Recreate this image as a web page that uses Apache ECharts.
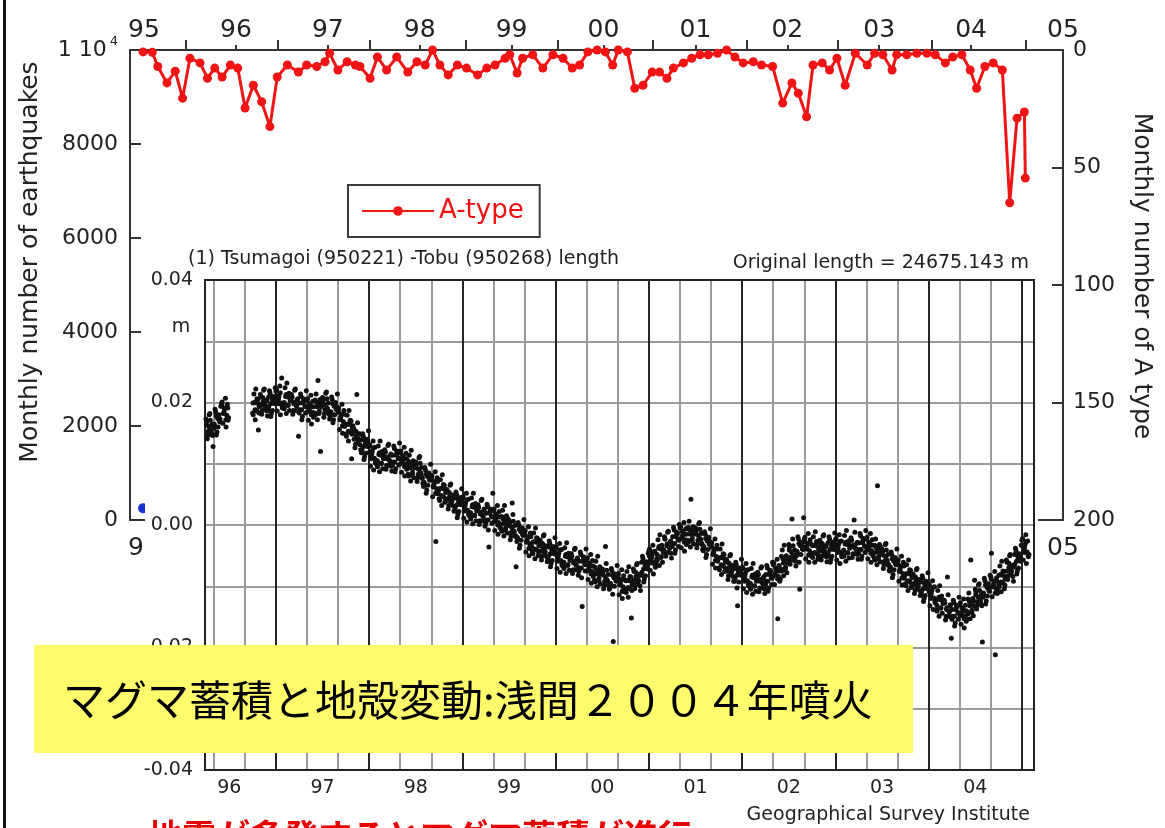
<!DOCTYPE html>
<html><head><meta charset="utf-8">
<script src="https://cdn.jsdelivr.net/npm/echarts@6/dist/echarts.min.js"></script>
<style>html,body{margin:0;padding:0;background:#fff}#c{width:1165px;height:828px}</style>
</head><body><div id="c"></div>
<script>
// ---- Background chart: monthly A-type earthquakes (right axis, inverted) ----
const aTypeT = [1994.99,1995.09,1995.15,1995.25,1995.34,1995.42,1995.50,1995.61,1995.69,1995.77,1995.85,1995.94,1996.02,1996.10,1996.19,1996.28,1996.37,1996.45,1996.56,1996.68,1996.77,1996.88,1996.97,1997.02,1997.11,1997.21,1997.30,1997.35,1997.46,1997.54,1997.64,1997.75,
1997.87,1997.97,1998.06,1998.14,1998.22,1998.31,1998.41,1998.51,1998.63,1998.73,1998.82,1998.93,1998.98,1999.06,1999.12,1999.23,1999.34,1999.45,1999.56,1999.66,1999.74,1999.83,1999.93,2000.02,2000.10,2000.16,2000.26,2000.34,2000.43,2000.53,2000.61,2000.69,2000.76,2000.87,2000.96,2001.05,2001.14,2001.24,2001.34,2001.43,2001.52,2001.63,2001.72,2001.84,
2001.95,2002.05,2002.12,2002.21,2002.28,2002.38,2002.46,2002.54,2002.63,2002.74,2002.87,2002.95,2003.04,2003.14,2003.19,2003.30,2003.41,2003.52,2003.61,2003.72,2003.80,2003.90,2003.99,2004.06,2004.15,2004.24,2004.34,2004.42,2004.50,2004.58,2004.59];
const aTypeV = [0.8,1,7,14,9,20.5,3.5,5.5,12,7.7,11.5,6.4,7.7,24.7,15,22,32.6,11.5,6.4,9.4,6.4,7,5,1.4,8.5,5,6.4,7,12,3,8.5,3,
9.4,5,6.4,0,6.4,10.6,6.4,7.7,10.6,7.7,6.4,3.5,2,9.8,3.5,2,7.7,2,3.5,7.7,6.4,0.8,0,0.8,6.4,0,0.8,16.3,15,9.4,9.4,12,7.7,5.5,3.5,2,2,1.4,0,3,5.5,5,6.4,7,
22.6,14,18.4,28.4,6.4,5.5,8.5,3.5,15,1.4,6.4,1.4,2,8.5,2,2,1.4,1.4,2,5.5,3,2,8.5,16.3,7,5.5,8.5,65,29,26.4,54.5];
// total monthly earthquakes (left axis) - only the first point is visible
const quakeT = [1994.99, 1995.08];
const quakeV = [250, 200];
const bgYearLabels = [1995,1996,1997,1998,1999,2000,2001,2002,2003,2004,2005];
const bgMinorTicks = [1996,1997,1998,1999,2000,2001,2002,2003,2004];
const bgMajorTicks = [1995.45,1996.46,1997.46,1998.5,1999.5,2000.54,2001.56,2002.55,2003.57,2004.59];

// ---- Inset: Tsumagoi - Tobu baseline length change (mm) ----
const gpsMonths = ['1996-04','1996-05','1996-06','1996-10','1996-11','1996-12',
'1997-01','1997-02','1997-03','1997-04','1997-05','1997-06','1997-07','1997-08','1997-09','1997-10','1997-11','1997-12',
'1998-01','1998-02','1998-03','1998-04','1998-05','1998-06','1998-07','1998-08','1998-09','1998-10','1998-11','1998-12',
'1999-01','1999-02','1999-03','1999-04','1999-05','1999-06','1999-07','1999-08','1999-09','1999-10','1999-11','1999-12',
'2000-01','2000-02','2000-03','2000-04','2000-05','2000-06','2000-07','2000-08','2000-09','2000-10','2000-11','2000-12',
'2001-01','2001-02','2001-03','2001-04','2001-05','2001-06','2001-07','2001-08','2001-09','2001-10','2001-11','2001-12',
'2002-01','2002-02','2002-03','2002-04','2002-05','2002-06','2002-07','2002-08','2002-09','2002-10','2002-11','2002-12',
'2003-01','2003-02','2003-03','2003-04','2003-05','2003-06','2003-07','2003-08','2003-09','2003-10','2003-11','2003-12',
'2004-01','2004-02','2004-03','2004-04','2004-05','2004-06','2004-07','2004-08','2004-09','2004-10','2004-11','2004-12','2005-01'];
// wider scatter incl. outliers (6 readings per month)
const gpsValues = [
[16.9,14.7,18.0,15.6,16.4,12.8],[16.3,18.5,15.2,17.8,16.9,19.4],[20.1,18.2,19.1,16.0,19.7,17.5],
[18.0,20.0,22.2,18.6,15.5,19.7],[20.9,18.7,22.0,19.6,20.4,17.8],[19.3,21.5,18.2,20.8,19.9,22.4],
[22.1,20.2,21.1,18.0,24.0,19.5],[19.0,21.0,23.2,19.6,18.7,20.7],[20.9,18.7,22.0,19.6,20.4,14.5],[18.8,21.0,17.7,20.3,19.4,21.9],
[20.6,18.7,19.6,16.5,20.2,18.0],[18.0,20.0,23.6,18.6,12.0,19.7],[20.4,18.2,21.5,19.1,19.9,17.3],[18.3,20.5,17.2,19.8,18.9,21.4],
[19.1,17.2,18.1,15.0,18.7,16.5],[14.5,16.5,18.7,15.1,10.8,16.2],[15.4,13.2,21.3,14.1,14.9,12.3],[12.3,14.5,11.2,13.8,12.9,15.4],
[13.1,11.2,12.1,9.0,12.7,10.5],[9.5,11.5,13.7,10.1,9.2,11.2],[11.9,9.7,13.0,10.6,11.4,8.8],[10.3,12.5,9.2,11.8,10.9,13.4],
[12.1,10.2,11.1,8.0,11.7,9.5],[8.0,10.0,12.2,8.6,7.7,9.7],[9.9,7.7,11.0,8.6,9.4,6.8],[6.8,9.0,5.7,8.3,7.4,9.9],
[8.1,6.2,7.1,-2.7,7.7,5.5],[4.0,6.0,8.2,4.6,3.7,5.7],[5.4,3.2,6.5,4.1,4.9,2.3],[2.8,5.0,1.7,4.3,3.4,5.9],
[4.6,2.7,3.6,0.5,4.2,2.0],[1.0,3.0,5.2,1.6,0.7,2.7],[2.9,0.7,4.0,1.6,2.4,-0.2],[0.8,3.0,-3.6,2.3,1.4,5.2],
[2.6,0.7,1.6,-1.5,2.2,0.0],[-1.0,1.0,3.2,-0.4,-1.3,0.7],[0.4,-1.8,3.6,-0.9,-0.1,-6.8],[-2.2,0.0,-3.3,-0.7,-1.6,0.9],
[-0.9,-2.8,-1.9,-5.0,-1.3,-3.5],[-4.7,-2.7,-0.5,-4.1,-5.0,-3.0],[-2.9,-5.1,-1.8,-4.2,-3.4,-6.0],[-5.2,-3.0,-6.3,-3.7,-4.6,-2.1],
[-3.6,-5.5,-4.6,-7.7,-4.0,-6.2],[-7.1,-5.1,-2.9,-6.5,-7.4,-5.4],[-5.1,-7.3,-4.0,-6.4,-5.6,-8.2],[-7.0,-4.8,-13.3,-5.5,-6.4,-3.9],
[-5.4,-7.3,-6.4,-9.5,-5.8,-8.0],[-9.3,-7.3,-5.1,-8.7,-9.6,-7.6],[-7.6,-9.8,-3.5,-8.9,-8.1,-10.5],[-9.7,-7.5,-19.0,-8.2,-9.1,-6.6],
[-7.9,-9.8,-8.9,-12.0,-8.3,-10.5],[-11.0,-9.0,-6.8,-10.4,-15.2,-9.3],[-7.6,-9.8,-6.5,-8.9,-8.1,-10.7],[-7.7,-5.5,-8.8,-6.2,-7.1,-4.6],
[-3.9,-5.8,-4.9,-8.0,-4.3,-6.5],[-5.8,-3.8,-1.6,-5.2,-6.1,-4.1],[-2.3,-4.5,-1.2,-3.6,-2.8,-5.4],[-3.0,-0.8,-4.1,-1.5,-2.4,0.1],
[-0.2,-2.1,-1.2,-4.3,-0.6,-2.8],[-2.8,-0.8,4.2,-2.2,-3.1,-1.1],[-0.9,-3.1,0.2,-2.2,-1.4,-4.0],[-3.7,-1.5,-4.8,-2.2,-3.1,-0.6],
[-2.9,-4.8,-3.9,-7.0,-3.3,-5.5],[-7.3,-5.3,-3.1,-6.7,-7.6,-5.6],[-6.1,-8.3,-5.0,-7.4,-6.6,-9.2],[-8.7,-6.5,-13.2,-7.2,-8.1,-5.6],
[-6.9,-8.8,-7.9,-11.0,-7.3,-9.5],[-10.5,-8.5,-6.3,-9.9,-10.8,-8.8],[-8.1,-10.3,-7.0,-9.4,-8.6,-11.2],[-9.2,-7.0,-10.3,-7.7,-8.6,-6.1],
[-6.2,-8.1,-7.2,-15.3,-6.6,-8.8],[-7.5,-5.5,-3.3,-6.9,-7.8,-5.8],[-3.6,-5.8,1.0,-4.9,-4.1,-6.7],[-4.5,-2.3,-10.5,-3.0,-3.9,1.2],
[-2.0,-3.9,-3.0,-6.1,-2.4,-4.6],[-5.3,-3.3,-1.1,-4.7,-5.6,-3.6],[-2.9,-5.1,-1.8,-4.2,-3.4,-6.0],[-4.5,-2.3,-5.6,-3.0,-3.9,-1.3],
[-2.2,-4.1,-3.2,-6.3,-2.6,-4.8],[-5.1,-3.1,-0.9,-4.5,-5.4,-3.4],[-2.5,-4.7,0.8,-3.8,-3.0,-5.6],[-4.0,-1.8,-5.1,-2.5,-3.4,-0.9],
[-2.0,-3.9,-3.0,-6.1,-2.4,-4.6],[-5.7,-3.7,6.4,-5.1,-6.0,-4.0],[-4.3,-6.5,-3.2,-5.6,-4.8,-7.4],[-7.0,-4.8,-8.1,-5.5,-6.4,-3.9],
[-5.7,-7.6,-6.7,-9.8,-6.1,-8.3],[-9.9,-7.9,-5.7,-9.3,-10.2,-8.2],[-8.4,-10.6,-7.3,-9.7,-8.9,-11.5],[-10.9,-8.7,-12.0,-9.4,-10.3,-7.8],
[-9.7,-11.6,-10.7,-13.8,-10.1,-12.3],[-14.1,-12.1,-9.9,-13.5,-14.4,-12.4],[-12.7,-14.9,-8.5,-14.0,-13.2,-18.5],[-14.9,-12.7,-16.0,-13.4,-14.3,-11.8],
[-12.7,-14.6,-13.7,-16.8,-13.1,-15.3],[-14.5,-12.5,-5.7,-13.9,-14.8,-9.0],[-10.9,-13.1,-9.8,-12.2,-11.4,-19.1],[-11.3,-9.1,-12.4,-9.8,-10.7,-8.2],
[-4.6,-10.1,-9.2,-21.2,-8.6,-10.8],[-10.1,-8.1,-5.9,-9.5,-10.4,-8.4],[-6.1,-8.3,-5.0,-7.4,-6.6,-9.2],[-6.4,-4.2,-7.5,-4.9,-5.8,-3.3],
[-2.2,-4.1,-3.2,-6.3,-2.6,-4.8]];
// dense core of the cloud (4 readings per month)
const gpsCore = [
[16.4,15.3,17.1,14.8],[16.5,17.8,16.0,17.3],[19.4,18.3,17.2,19.1],[19.9,18.8,20.6,18.3],[19.5,20.8,19.0,20.3],[20.9,19.8,18.7,20.6],
[20.9,19.8,21.6,19.3],[20.0,21.3,19.5,20.8],[20.9,19.8,18.7,20.6],[19.9,18.8,20.6,18.3],[18.5,19.8,18.0,19.3],[20.4,19.3,18.2,20.1],
[19.9,18.8,20.6,18.3],[18.5,19.8,18.0,19.3],[18.4,17.3,16.2,18.1],[16.4,15.3,17.1,14.8],[14.0,15.3,13.5,14.8],[13.9,12.8,11.7,13.6],
[11.9,10.8,12.6,10.3],[10.5,11.8,10.0,11.3],[11.9,10.8,9.7,11.6],[11.4,10.3,12.1,9.8],[10.0,11.3,9.5,10.8],[10.4,9.3,8.2,10.1],
[9.4,8.3,10.1,7.8],[7.0,8.3,6.5,7.8],[7.4,6.3,5.2,7.1],[5.9,4.8,6.6,4.3],[4.0,5.3,3.5,4.8],[4.4,3.3,2.2,4.1],
[3.4,2.3,4.1,1.8],[2.0,3.3,1.5,2.8],[2.9,1.8,0.7,2.6],[1.9,0.8,2.6,0.3],[0.5,1.8,0.0,1.3],[1.4,0.3,-0.8,1.1],
[-0.1,-1.2,0.6,-1.7],[-2.0,-0.7,-2.5,-1.2],[-1.6,-2.7,-3.8,-1.9],[-2.8,-3.9,-2.1,-4.4],[-4.3,-3.0,-4.8,-3.5],[-3.6,-4.7,-5.8,-3.9],
[-4.8,-5.9,-4.1,-6.4],[-6.1,-4.8,-6.6,-5.3],[-5.1,-6.2,-7.3,-5.4],[-5.9,-7.0,-5.2,-7.5],[-7.5,-6.2,-8.0,-6.7],[-6.9,-8.0,-9.1,-7.2],
[-8.1,-9.2,-7.4,-9.7],[-9.5,-8.2,-10.0,-8.7],[-8.6,-9.7,-10.8,-8.9],[-9.1,-10.2,-8.4,-10.7],[-9.0,-7.7,-9.5,-8.2],[-6.1,-7.2,-8.3,-6.4],
[-5.1,-6.2,-4.4,-6.7],[-4.8,-3.5,-5.3,-4.0],[-2.3,-3.4,-4.5,-2.6],[-1.9,-3.0,-1.2,-3.5],[-2.3,-1.0,-2.8,-1.5],[-0.4,-1.5,-2.6,-0.7],
[-1.4,-2.5,-0.7,-3.0],[-3.5,-2.2,-4.0,-2.7],[-3.6,-4.7,-5.8,-3.9],[-5.4,-6.5,-4.7,-7.0],[-7.5,-6.2,-8.0,-6.7],[-7.1,-8.2,-9.3,-7.4],
[-8.1,-9.2,-7.4,-9.7],[-9.5,-8.2,-10.0,-8.7],[-8.1,-9.2,-10.3,-8.4],[-8.1,-9.2,-7.4,-9.7],[-8.3,-7.0,-8.8,-7.5],[-5.1,-6.2,-7.3,-5.4],
[-4.1,-5.2,-3.4,-5.7],[-4.3,-3.0,-4.8,-3.5],[-2.7,-3.8,-4.9,-3.0],[-3.4,-4.5,-2.7,-5.0],[-4.3,-3.0,-4.8,-3.5],[-2.9,-4.0,-5.1,-3.2],
[-3.4,-4.5,-2.7,-5.0],[-4.1,-2.8,-4.6,-3.3],[-2.5,-3.6,-4.7,-2.8],[-2.9,-4.0,-2.2,-4.5],[-4.1,-2.8,-4.6,-3.3],[-3.3,-4.4,-5.5,-3.6],
[-4.8,-5.9,-4.1,-6.4],[-6.8,-5.5,-7.3,-6.0],[-6.4,-7.5,-8.6,-6.7],[-8.0,-9.1,-7.3,-9.6],[-9.8,-8.5,-10.3,-9.0],[-9.3,-10.4,-11.5,-9.6],
[-10.9,-12.0,-10.2,-12.5],[-13.1,-11.8,-13.6,-12.3],[-12.7,-13.8,-14.9,-13.0],[-13.8,-14.9,-13.1,-15.4],[-14.8,-13.5,-15.3,-14.0],[-12.1,-13.2,-14.3,-12.4],
[-11.4,-12.5,-10.7,-13.0],[-11.1,-9.8,-11.6,-10.3],[-8.9,-10.0,-11.1,-9.2],[-8.2,-9.3,-7.5,-9.8],[-7.5,-6.2,-8.0,-6.7],[-4.8,-5.9,-7.0,-5.1],
[-3.4,-4.5,-2.7,-5.0]];
// body of the cloud (6 more readings per month)
const gpsBody = [
[17.3,14.1,16.1,18.2,15.4,14.6],[15.8,18.9,14.7,17.4,18.0,16.8],[19.8,16.6,18.6,20.7,17.9,17.1],[18.3,21.4,17.2,19.9,20.5,19.3],
[21.3,18.1,20.1,22.2,19.4,18.6],[18.8,21.9,17.7,20.4,21.0,19.8],
[21.8,18.6,20.6,22.7,19.9,19.1],[19.3,22.4,18.2,20.9,21.5,20.3],[21.3,18.1,20.1,22.2,19.4,18.6],[18.3,21.4,17.2,19.9,20.5,19.3],
[20.3,17.1,19.1,21.2,18.4,17.6],[18.3,21.4,17.2,19.9,20.5,19.3],[20.8,17.6,19.6,21.7,18.9,18.1],[17.8,20.9,16.7,19.4,20.0,18.8],
[18.8,15.6,17.6,19.7,16.9,16.1],[14.8,17.9,13.7,16.4,17.0,15.8],[15.8,12.6,14.6,16.7,13.9,13.1],[11.8,14.9,10.7,13.4,14.0,12.8],
[12.8,9.6,11.6,13.7,10.9,10.1],[9.8,12.9,8.7,11.4,12.0,10.8],[12.3,9.1,11.1,13.2,10.4,9.6],[9.8,12.9,8.7,11.4,12.0,10.8],
[11.8,8.6,10.6,12.7,9.9,9.1],[8.3,11.4,7.2,9.9,10.5,9.3],[10.3,7.1,9.1,11.2,8.4,7.6],[6.3,9.4,5.2,7.9,8.5,7.3],
[7.8,4.6,6.6,8.7,5.9,5.1],[4.3,7.4,3.2,5.9,6.5,5.3],[5.8,2.6,4.6,6.7,3.9,3.1],[2.3,5.4,1.2,3.9,4.5,3.3],
[4.3,1.1,3.1,5.2,2.4,1.6],[1.3,4.4,0.2,2.9,3.5,2.3],[3.3,0.1,2.1,4.2,1.4,0.6],[0.3,3.4,-0.8,1.9,2.5,1.3],
[2.3,-0.9,1.1,3.2,0.4,-0.4],[-0.7,2.4,-1.8,0.9,1.5,0.3],[0.8,-2.4,-0.4,1.7,-1.1,-1.9],[-2.7,0.4,-3.8,-1.1,-0.5,-1.7],
[-1.2,-4.4,-2.4,-0.3,-3.1,-3.9],[-4.4,-1.3,-5.5,-2.8,-2.2,-3.4],[-2.5,-5.7,-3.7,-1.6,-4.4,-5.2],[-5.7,-2.6,-6.8,-4.1,-3.5,-4.7],
[-3.9,-7.1,-5.1,-3.0,-5.8,-6.6],[-6.8,-3.7,-7.9,-5.2,-4.6,-5.8],[-4.7,-7.9,-5.9,-3.8,-6.6,-7.4],[-7.5,-4.4,-8.6,-5.9,-5.3,-6.5],
[-5.7,-8.9,-6.9,-4.8,-7.6,-8.4],[-9.0,-5.9,-10.1,-7.4,-6.8,-8.0],[-7.2,-10.4,-8.4,-6.3,-9.1,-9.9],[-10.2,-7.1,-11.3,-8.6,-8.0,-9.2],
[-8.2,-11.4,-9.4,-7.3,-10.1,-10.9],[-10.7,-7.6,-11.8,-9.1,-8.5,-9.7],[-7.2,-10.4,-8.4,-6.3,-9.1,-9.9],[-8.2,-5.1,-9.3,-6.6,-6.0,-7.2],
[-4.2,-7.4,-5.4,-3.3,-6.1,-6.9],[-5.5,-2.4,-6.6,-3.9,-3.3,-4.5],[-1.9,-5.1,-3.1,-1.0,-3.8,-4.6],[-3.5,-0.4,-4.6,-1.9,-1.3,-2.5],
[-0.5,-3.7,-1.7,0.4,-2.4,-3.2],[-2.5,0.6,-3.6,-0.9,-0.3,-1.5],[-0.5,-3.7,-1.7,0.4,-2.4,-3.2],[-4.2,-1.1,-5.3,-2.6,-2.0,-3.2],
[-3.2,-6.4,-4.4,-2.3,-5.1,-5.9],[-7.0,-3.9,-8.1,-5.4,-4.8,-6.0],[-5.7,-8.9,-6.9,-4.8,-7.6,-8.4],[-9.2,-6.1,-10.3,-7.6,-7.0,-8.2],
[-7.2,-10.4,-8.4,-6.3,-9.1,-9.9],[-10.2,-7.1,-11.3,-8.6,-8.0,-9.2],[-7.7,-10.9,-8.9,-6.8,-9.6,-10.4],[-9.7,-6.6,-10.8,-8.1,-7.5,-8.7],
[-6.5,-9.7,-7.7,-5.6,-8.4,-9.2],[-7.2,-4.1,-8.3,-5.6,-5.0,-6.2],[-3.2,-6.4,-4.4,-2.3,-5.1,-5.9],[-5.0,-1.9,-6.1,-3.4,-2.8,-4.0],
[-2.3,-5.5,-3.5,-1.4,-4.2,-5.0],[-5.0,-1.9,-6.1,-3.4,-2.8,-4.0],[-2.5,-5.7,-3.7,-1.6,-4.4,-5.2],[-5.0,-1.9,-6.1,-3.4,-2.8,-4.0],
[-2.5,-5.7,-3.7,-1.6,-4.4,-5.2],[-4.8,-1.7,-5.9,-3.2,-2.6,-3.8],[-2.1,-5.3,-3.3,-1.2,-4.0,-4.8],[-4.5,-1.4,-5.6,-2.9,-2.3,-3.5],
[-2.3,-5.5,-3.5,-1.4,-4.2,-5.0],[-5.4,-2.3,-6.5,-3.8,-3.2,-4.4],[-3.9,-7.1,-5.1,-3.0,-5.8,-6.6],[-7.5,-4.4,-8.6,-5.9,-5.3,-6.5],
[-6.0,-9.2,-7.2,-5.1,-7.9,-8.7],[-9.6,-6.5,-10.7,-8.0,-7.4,-8.6],[-8.0,-11.2,-9.2,-7.1,-9.9,-10.7],[-11.4,-8.3,-12.5,-9.8,-9.2,-10.4],
[-10.0,-13.2,-11.2,-9.1,-11.9,-12.7],[-13.8,-10.7,-14.9,-12.2,-11.6,-12.8],[-12.3,-15.5,-13.5,-11.4,-14.2,-15.0],[-15.4,-12.3,-16.5,-13.8,-13.2,-14.4],
[-13.0,-16.2,-14.2,-12.1,-14.9,-15.7],[-14.2,-11.1,-15.3,-12.6,-12.0,-13.2],[-10.5,-13.7,-11.7,-9.6,-12.4,-13.2],[-11.8,-8.7,-12.9,-10.2,-9.6,-10.8],
[-8.5,-11.7,-9.7,-7.6,-10.4,-11.2],[-9.8,-6.7,-10.9,-8.2,-7.6,-8.8],[-5.7,-8.9,-6.9,-4.8,-7.6,-8.4],[-6.9,-3.8,-8.0,-5.3,-4.7,-5.9],
[-2.5,-5.7,-3.7,-1.6,-4.4,-5.2]];
const insetYearLines = [1997,1998,1999,2000,2001,2002,2003,2004,2005];
const insetYearLabels = [1996.5,1997.5,1998.5,1999.5,2000.5,2001.5,2002.5,2003.5,2004.5];
const insetThirdLines = [1996.3333,1996.6667,1997.3333,1997.6667,1998.3333,1998.6667,1999.3333,1999.6667,2000.3333,2000.6667,
2001.3333,2001.6667,2002.3333,2002.6667,2003.3333,2003.6667,2004.3333,2004.6667];

const FONT = '"DejaVu Sans", sans-serif';
const JP = '"Noto Sans CJK JP", sans-serif';
const yy = v => String(Math.floor(v + 1e-6) % 100).padStart(2, '0');
const monthStart = s => { const p = s.split('-').map(Number); return p[0] + (p[1] - 1) / 12; };

const gpsPoints = [];
function addMonthly(list, shift) {
  gpsMonths.forEach((m, k) => {
    const vals = list[k];
    vals.forEach((v, i) => gpsPoints.push([monthStart(m) + (i + shift) / vals.length / 12, v]));
  });
}
addMonthly(gpsValues, 0.5);
addMonthly(gpsCore, 0.25);
addMonthly(gpsBody, 0.05);
const aTypeData = aTypeT.map((t, i) => [t, aTypeV[i]]);
const quakeData = quakeT.map((t, i) => [t, quakeV[i]]);

const chart = echarts.init(document.getElementById('c'), null, {renderer: 'canvas'});
const bgMin = 1994.8477, bgMax = 2005.0;
const lblBg = {fontFamily: FONT, fontSize: 22, color: '#222'};
chart.setOption({
  animation: false,
  backgroundColor: '#fff',
  grid: [
    {left: 130, top: 50, width: 933, height: 470, outerBoundsMode: 'none', containLabel: false},
    {left: 205, top: 280, width: 829, height: 490, outerBoundsMode: 'none', containLabel: false,
     show: true, borderColor: '#222', borderWidth: 2, z: 4}
  ],
  legend: {
    data: ['A-type'], left: 348, top: 185, orient: 'horizontal',
    itemWidth: 72, itemHeight: 12, itemGap: 6,
    borderColor: '#3a3a3a', borderWidth: 2, padding: [13, 16, 13, 13],
    textStyle: {color: '#ee1111', fontSize: 26, fontFamily: FONT}
  },
  xAxis: [
    {gridIndex: 0, type: 'value', position: 'top', min: bgMin, max: bgMax, z: 1,
     axisLine: {show: true, onZero: false, lineStyle: {color: '#333', width: 2}},
     axisTick: {show: true, customValues: bgMinorTicks, length: 5, lineStyle: {color: '#333', width: 2}},
     axisLabel: {customValues: bgYearLabels, formatter: yy, fontFamily: FONT, fontSize: 25, color: '#222', margin: 7},
     splitLine: {show: false}},
    {gridIndex: 0, type: 'value', position: 'top', min: bgMin, max: bgMax, z: 1,
     axisLine: {show: false, onZero: false},
     axisTick: {show: true, customValues: bgMajorTicks, length: 10, lineStyle: {color: '#333', width: 2}},
     axisLabel: {show: false, customValues: bgMajorTicks},
     splitLine: {show: false}},
    {gridIndex: 0, type: 'value', position: 'bottom', min: bgMin, max: bgMax, z: 1,
     axisLine: {show: true, onZero: false, lineStyle: {color: '#333', width: 2}},
     axisTick: {show: false, customValues: bgYearLabels},
     axisLabel: {customValues: bgYearLabels, formatter: yy, fontFamily: FONT, fontSize: 25, color: '#222', margin: 16},
     splitLine: {show: false}},
    {gridIndex: 1, type: 'value', position: 'bottom', min: 1996.24, max: 2005.13, z: 4,
     axisLine: {show: true, onZero: false, lineStyle: {color: '#222', width: 2}},
     axisTick: {show: false, customValues: insetYearLines},
     axisLabel: {customValues: insetYearLabels, formatter: yy, fontFamily: FONT, fontSize: 19, color: '#222', margin: 9},
     splitLine: {show: true, lineStyle: {color: '#262626', width: 2}}},
    {gridIndex: 1, type: 'value', position: 'bottom', min: 1996.24, max: 2005.13, z: 3,
     axisLine: {show: false, onZero: false},
     axisTick: {show: false, customValues: insetThirdLines},
     axisLabel: {show: false, customValues: insetThirdLines},
     splitLine: {show: true, lineStyle: {color: '#9b9b9b', width: 2}}}
  ],
  yAxis: [
    {gridIndex: 0, type: 'value', position: 'left', min: 0, max: 10000, interval: 2000, z: 1,
     axisLine: {show: true, onZero: false, lineStyle: {color: '#333', width: 2}},
     axisTick: {show: true, inside: true, length: 11, lineStyle: {color: '#333', width: 2}},
     axisLabel: Object.assign({}, lblBg, {margin: 12,
       formatter: v => v === 10000 ? '{a|1 10}{s|4}' : String(v),
       rich: {a: {fontFamily: FONT, fontSize: 22, color: '#222'},
              s: {fontFamily: FONT, fontSize: 13, color: '#222', padding: [0, 0, 16, 3]}}}),
     splitLine: {show: false}},
    {gridIndex: 0, type: 'value', position: 'right', min: 0, max: 200, interval: 50, inverse: true, z: 1,
     axisLine: {show: true, onZero: false, lineStyle: {color: '#333', width: 2}},
     axisTick: {show: true, inside: true, length: 11, lineStyle: {color: '#333', width: 2}},
     axisLabel: Object.assign({}, lblBg, {margin: 10}),
     splitLine: {show: false}},
    {gridIndex: 1, type: 'value', min: -40, max: 40, interval: 10, z: 3,
     axisLine: {show: true, onZero: false, lineStyle: {color: '#222', width: 2}},
     axisTick: {show: false},
     axisLabel: {fontFamily: FONT, fontSize: 19, color: '#222', margin: 12,
       formatter: v => (Math.round(v) % 20 === 0) ? (v / 1000).toFixed(2) : ''},
     splitLine: {show: true, lineStyle: {color: '#9b9b9b', width: 2}}}
  ],
  series: [
    {name: 'Earthquakes', type: 'line', xAxisIndex: 0, yAxisIndex: 0, data: quakeData, z: 2,
     symbol: 'circle', symbolSize: 10, lineStyle: {color: '#1a2fd0', width: 3}, itemStyle: {color: '#1a2fd0'}},
    {name: 'A-type', type: 'line', xAxisIndex: 0, yAxisIndex: 1, data: aTypeData, z: 2,
     symbol: 'circle', symbolSize: 9, showAllSymbol: true,
     lineStyle: {color: '#f01414', width: 3}, itemStyle: {color: '#f01414'}},
    {name: 'Baseline', type: 'scatter', xAxisIndex: 3, yAxisIndex: 2, data: gpsPoints, z: 6,
     symbol: 'circle', symbolSize: 5, large: false, itemStyle: {color: '#111', opacity: 1}}
  ],
  graphic: {elements: [
    {type: 'text', z: 1, rotation: Math.PI / 2, x: 30, y: 262, style: {x: 0, y: 0, text: 'Monthly number of earthquakes',
      font: '25px ' + FONT, fill: '#222', textAlign: 'center', textVerticalAlign: 'middle'}},
    {type: 'text', z: 1, rotation: -Math.PI / 2, x: 1141, y: 276, style: {x: 0, y: 0, text: 'Monthly number of A type',
      font: '25px ' + FONT, fill: '#222', textAlign: 'center', textVerticalAlign: 'middle'}},
    {type: 'rect', z: 3, silent: true, shape: {x: 145, y: 243, width: 893, height: 590}, style: {fill: '#fff'}},
    {type: 'text', z: 7, style: {x: 188, y: 259, text: '(1) Tsumagoi (950221) -Tobu (950268) length',
      font: '19px ' + FONT, fill: '#222', textAlign: 'left', textVerticalAlign: 'middle'}},
    {type: 'text', z: 7, style: {x: 1029, y: 263, text: 'Original length = 24675.143 m',
      font: '19px ' + FONT, fill: '#222', textAlign: 'right', textVerticalAlign: 'middle'}},
    {type: 'text', z: 7, style: {x: 181, y: 327, text: 'm',
      font: '19px ' + FONT, fill: '#222', textAlign: 'center', textVerticalAlign: 'middle'}},
    {type: 'text', z: 7, style: {x: 1030, y: 815, text: 'Geographical Survey Institute',
      font: '19px ' + FONT, fill: '#222', textAlign: 'right', textVerticalAlign: 'middle'}},
    {type: 'rect', z: 20, silent: true, shape: {x: 34, y: 645, width: 879, height: 108}, style: {fill: '#fffb6c'}},
    {type: 'text', z: 21, style: {x: 63, y: 700, text: 'マグマ蓄積と地殻変動:浅間２００４年噴火',
      font: '42px ' + JP, fill: '#000', textAlign: 'left', textVerticalAlign: 'middle'}},
    {type: 'text', z: 21, style: {x: 148, y: 819, text: '地震が多発するとマグマ蓄積が進行',
      font: 'bold 34px ' + JP, fill: '#e60000', textAlign: 'left', textVerticalAlign: 'top'}},
    {type: 'rect', z: 22, silent: true, shape: {x: 3, y: 0, width: 3, height: 828}, style: {fill: '#111'}}
  ]}
});
</script>
</body></html>
